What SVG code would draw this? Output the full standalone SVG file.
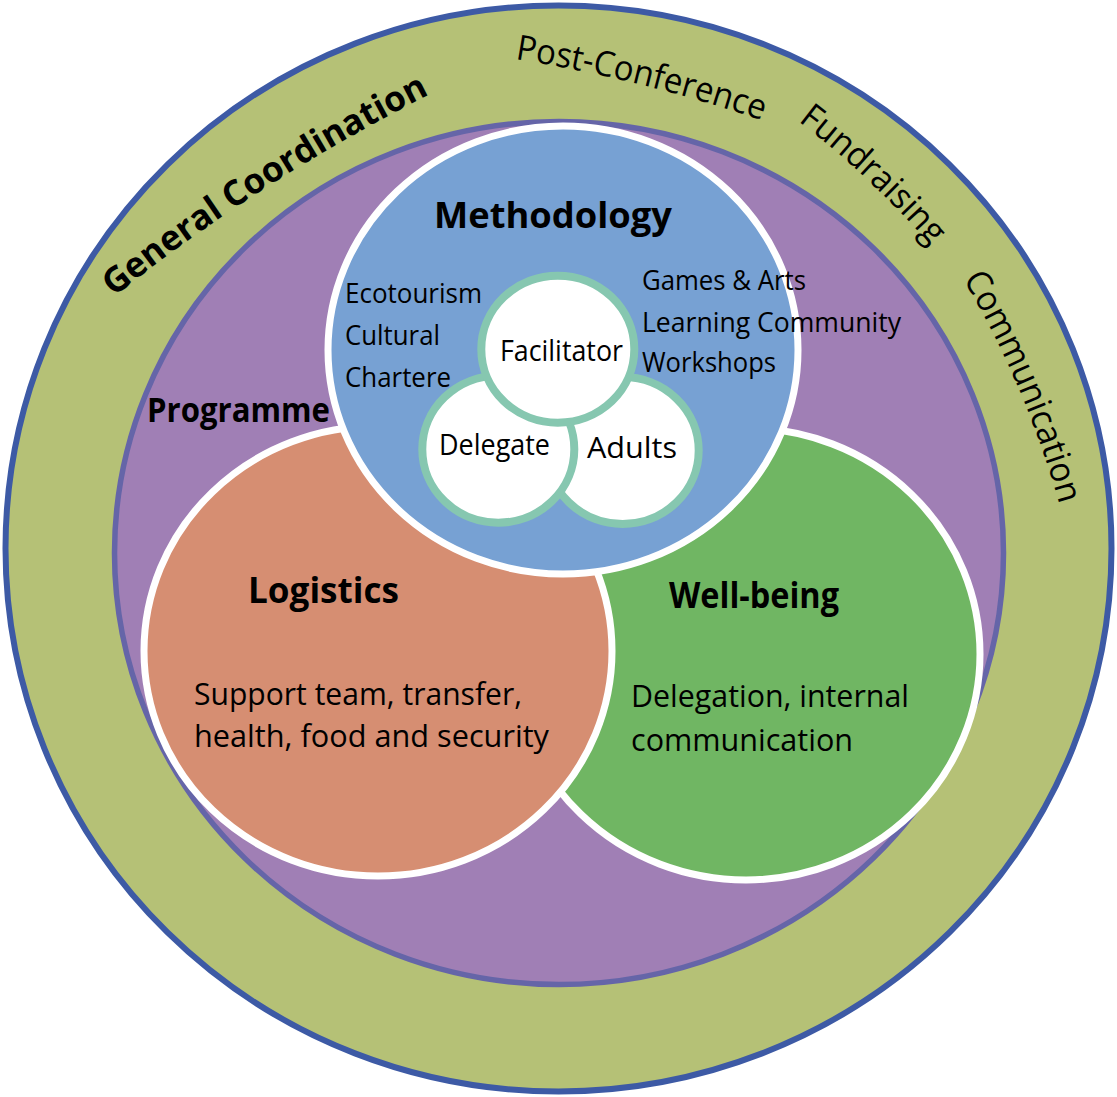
<svg xmlns="http://www.w3.org/2000/svg" width="1117" height="1097" viewBox="0 0 1117 1097">
  <defs>
    <style>
      .lbl { font-family: "Open Sans", "Noto Sans", "Liberation Sans", sans-serif; fill: #000; }
      .b { font-weight: bold; }
      .ring { font-family: "Open Sans", "Noto Sans", "Liberation Sans", sans-serif; fill: #000; font-size: 35px; }
      .zone { stroke: #ffffff; stroke-width: 7; }
      .role { fill: #ffffff; stroke: #86c7b0; stroke-width: 8; }
    </style>
    <path id="pGC" d="M 114 297 Q 253 184 432 93"/>
    <path id="pPC" d="M 515 59 Q 641 79 764 121"/>
    <path id="pFR" d="M 798 121 Q 869 175 933 248"/>
    <path id="pCM" d="M 963 279 Q 1025 383 1060 506"/>
  </defs>

  <g id="general-coordination">
    <ellipse cx="558.5" cy="548.5" rx="553" ry="543" fill="#b5c176" stroke="#3d5aa5" stroke-width="6"/>
    <text class="ring b" font-size="37"><textPath href="#pGC" textLength="376" lengthAdjust="spacingAndGlyphs">General Coordination</textPath></text>
    <text class="ring"><textPath href="#pPC" textLength="255" lengthAdjust="spacingAndGlyphs">Post-Conference</textPath></text>
    <text class="ring"><textPath href="#pFR" textLength="183" lengthAdjust="spacingAndGlyphs">Fundraising</textPath></text>
    <text class="ring"><textPath href="#pCM" textLength="246" lengthAdjust="spacingAndGlyphs">Communication</textPath></text>
  </g>

  <g id="programme">
    <ellipse cx="559" cy="553" rx="444.5" ry="431.5" fill="#a07fb5" stroke="#6565a8" stroke-width="5.5"/>
    <text class="lbl b" x="147" y="422" font-size="34" textLength="183" lengthAdjust="spacingAndGlyphs">Programme</text>
  </g>

  <g id="well-being">
    <ellipse class="zone" cx="746" cy="654" rx="234" ry="226" fill="#70b663"/>
    <text class="lbl b" x="669" y="608" font-size="35" textLength="170" lengthAdjust="spacingAndGlyphs">Well-being</text>
    <text class="lbl" x="631" y="707" font-size="31" textLength="278" lengthAdjust="spacingAndGlyphs">Delegation, internal</text>
    <text class="lbl" x="631" y="751" font-size="31" textLength="222" lengthAdjust="spacingAndGlyphs">communication</text>
  </g>

  <g id="logistics">
    <ellipse class="zone" cx="378" cy="651" rx="234" ry="225" fill="#d68e72"/>
    <text class="lbl b" x="248" y="603" font-size="36" textLength="151" lengthAdjust="spacingAndGlyphs">Logistics</text>
    <text class="lbl" x="194" y="705" font-size="31" textLength="328" lengthAdjust="spacingAndGlyphs">Support team, transfer,</text>
    <text class="lbl" x="194" y="747" font-size="31" textLength="355" lengthAdjust="spacingAndGlyphs">health, food and security</text>
  </g>

  <g id="methodology">
    <ellipse class="zone" cx="563" cy="350" rx="235" ry="224" fill="#77a1d3"/>
    <text class="lbl b" x="434" y="228" font-size="35" textLength="238" lengthAdjust="spacingAndGlyphs">Methodology</text>
    <text class="lbl" x="345" y="303" font-size="27" textLength="137" lengthAdjust="spacingAndGlyphs">Ecotourism</text>
    <text class="lbl" x="345" y="345" font-size="27" textLength="95" lengthAdjust="spacingAndGlyphs">Cultural</text>
    <text class="lbl" x="345" y="387" font-size="27" textLength="106" lengthAdjust="spacingAndGlyphs">Chartere</text>
    <text class="lbl" x="642" y="290" font-size="27" textLength="164" lengthAdjust="spacingAndGlyphs">Games &amp; Arts</text>
    <text class="lbl" x="642" y="332" font-size="27" textLength="259" lengthAdjust="spacingAndGlyphs">Learning Community</text>
    <text class="lbl" x="642" y="372" font-size="27" textLength="134" lengthAdjust="spacingAndGlyphs">Workshops</text>
  </g>

  <g id="adults">
    <ellipse class="role" cx="622.7" cy="450.5" rx="76" ry="73.5"/>
    <text class="lbl" x="587" y="458" font-size="29" textLength="90" lengthAdjust="spacingAndGlyphs">Adults</text>
  </g>

  <g id="delegate">
    <ellipse class="role" cx="498.3" cy="449.2" rx="76" ry="73.5"/>
    <text class="lbl" x="439" y="455" font-size="29" textLength="111" lengthAdjust="spacingAndGlyphs">Delegate</text>
  </g>

  <g id="facilitator">
    <ellipse class="role" cx="557.8" cy="349.2" rx="76.5" ry="73.5"/>
    <text class="lbl" x="500" y="361" font-size="29" textLength="123" lengthAdjust="spacingAndGlyphs">Facilitator</text>
  </g>

  <g id="connectors"/>
</svg>
